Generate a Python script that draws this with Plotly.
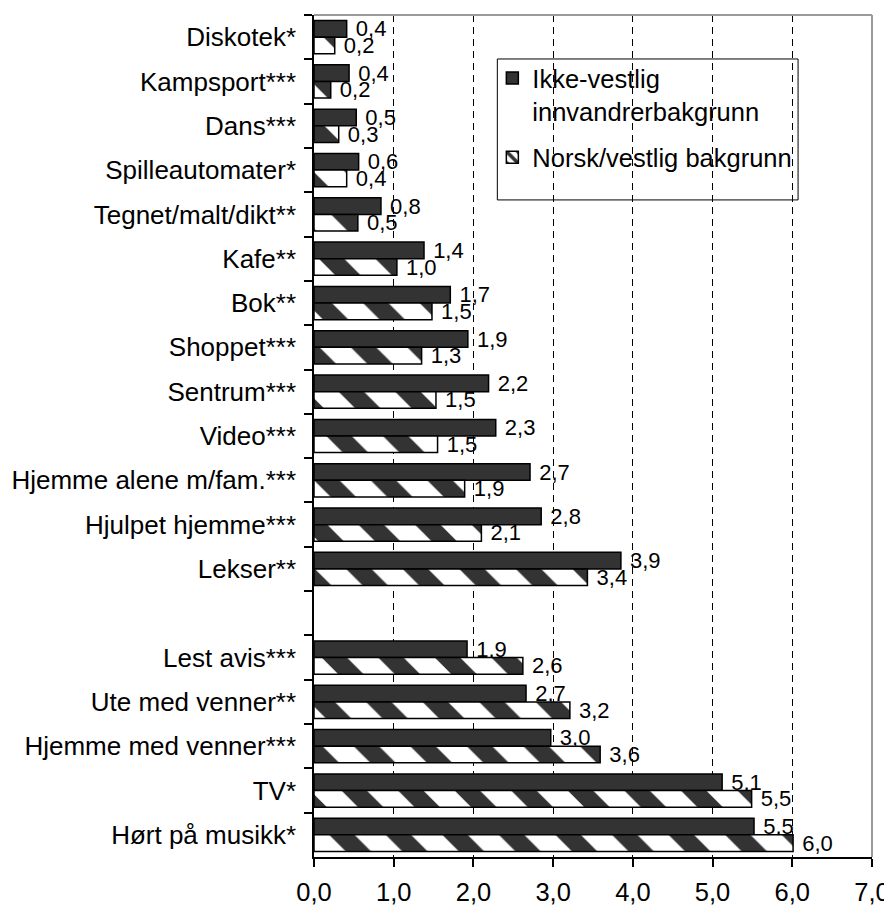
import plotly.graph_objects as go

# Categories, top to bottom (blank entry = gap between the two blocks)
categories = [
    "Diskotek*", "Kampsport***", "Dans***", "Spilleautomater*", "Tegnet/malt/dikt**",
    "Kafe**", "Bok**", "Shoppet***", "Sentrum***", "Video***",
    "Hjemme alene m/fam.***", "Hjulpet hjemme***", "Lekser**", " ",
    "Lest avis***", "Ute med venner**", "Hjemme med venner***", "TV*", "Hørt på musikk*",
]

# Bar lengths
ikke_vestlig = [0.41, 0.44, 0.53, 0.56, 0.84, 1.38, 1.71, 1.93, 2.19, 2.28,
                2.71, 2.85, 3.85, None, 1.92, 2.66, 2.97, 5.12, 5.52]
norsk_vestlig = [0.26, 0.21, 0.31, 0.41, 0.55, 1.04, 1.48, 1.35, 1.53, 1.55,
                 1.89, 2.10, 3.43, None, 2.62, 3.21, 3.59, 5.49, 6.01]

# Data labels as printed in the picture
ikke_labels = ["0,4", "0,4", "0,5", "0,6", "0,8", "1,4", "1,7", "1,9", "2,2", "2,3",
               "2,7", "2,8", "3,9", "", "1,9", "2,7", "3,0", "5,1", "5,5"]
norsk_labels = ["0,2", "0,2", "0,3", "0,4", "0,5", "1,0", "1,5", "1,3", "1,5", "1,5",
                "1,9", "2,1", "3,4", "", "2,6", "3,2", "3,6", "5,5", "6,0"]

series_names = ["Ikke-vestlig<br>innvandrerbakgrunn", "Norsk/vestlig bakgrunn"]
x_ticks = [0, 1, 2, 3, 4, 5, 6, 7]

FONT = "Liberation Sans, Arial, sans-serif"
DARK = "#333333"
NB = "\u00a0"

fig = go.Figure()
fig.add_trace(go.Bar(
    y=categories, x=ikke_vestlig, orientation="h", name=series_names[0],
    marker=dict(color=DARK, line=dict(color="black", width=1.5)),
    text=[NB + t if t else "" for t in ikke_labels], textposition="outside",
    textfont=dict(size=22, color="black", family=FONT),
    cliponaxis=False, constraintext="none", legendgroup="a",
))
fig.add_trace(go.Bar(
    y=categories, x=norsk_vestlig, orientation="h", name=series_names[1],
    marker=dict(color="white", line=dict(color="black", width=1.5),
                pattern=dict(shape="\\", fgcolor=DARK, bgcolor="white",
                             size=40, solidity=0.45, fillmode="replace",
                             fgopacity=1)),
    text=[NB + t if t else "" for t in norsk_labels], textposition="outside",
    textfont=dict(size=22, color="black", family=FONT),
    cliponaxis=False, constraintext="none", legendgroup="b",
))

# The page body has an 8px margin: figure origin sits at (8, 8) in the window.
OFF = 8
WIN_W, WIN_H = 892, 906
W, H = WIN_W - OFF, WIN_H - OFF
# plot area in window pixels
L, R, T, B = 313.5, 872.0, 15.0, 857.3
pw, ph = R - L, B - T

def px_x(px):
    return (px - L) / pw

def px_y(py):
    return (B - py) / ph

fig.update_layout(
    width=W, height=H,
    margin=dict(l=L - OFF, r=WIN_W - R, t=T - OFF, b=WIN_H - B, pad=0),
    paper_bgcolor="white", plot_bgcolor="white",
    font=dict(family=FONT, size=25, color="black"),
    separators=", ",
    barmode="group", bargap=0.25, bargroupgap=0,
    showlegend=True,
    legend=dict(
        x=px_x(492), y=px_y(55), xanchor="left", yanchor="top",
        bgcolor="rgba(0,0,0,0)", borderwidth=0,
        font=dict(size=25.5, family=FONT, color="black"),
        valign="top", tracegroupgap=10, traceorder="grouped",
    ),
    xaxis=dict(
        range=[0, 7], tickvals=x_ticks, tickformat=".1f",
        ticks="outside", ticklen=8, tickwidth=1.5, tickcolor="black",
        showline=True, linecolor="black", linewidth=1.5,
        showgrid=True, gridcolor="black", gridwidth=1, griddash="7px,5px",
        zeroline=False, tickfont=dict(size=25.5), ticklabelstandoff=4,
        automargin=False, fixedrange=True,
    ),
    yaxis=dict(
        type="category", categoryorder="array", categoryarray=categories,
        range=[len(categories) - 0.5, -0.5],
        tickson="boundaries", ticks="outside", ticklen=8, tickwidth=1.5,
        tickcolor="black", showline=True, linecolor="black", linewidth=1.5,
        showgrid=False, zeroline=False, tickfont=dict(size=26),
        ticklabelstandoff=11, automargin=False, fixedrange=True,
    ),
    shapes=[
        # gray plot border (top and right)
        dict(type="line", xref="paper", yref="paper", x0=0, x1=1, y0=1, y1=1,
             line=dict(color="#9a9a9a", width=2), layer="above"),
        dict(type="line", xref="paper", yref="paper", x0=1, x1=1, y0=0, y1=1,
             line=dict(color="#9a9a9a", width=2), layer="above"),
        # legend box
        dict(type="rect", xref="paper", yref="paper",
             x0=px_x(497), x1=px_x(798), y0=px_y(200), y1=px_y(59),
             line=dict(color="black", width=1), fillcolor="white", layer="below"),
    ],
)

fig.write_html("out.html")
